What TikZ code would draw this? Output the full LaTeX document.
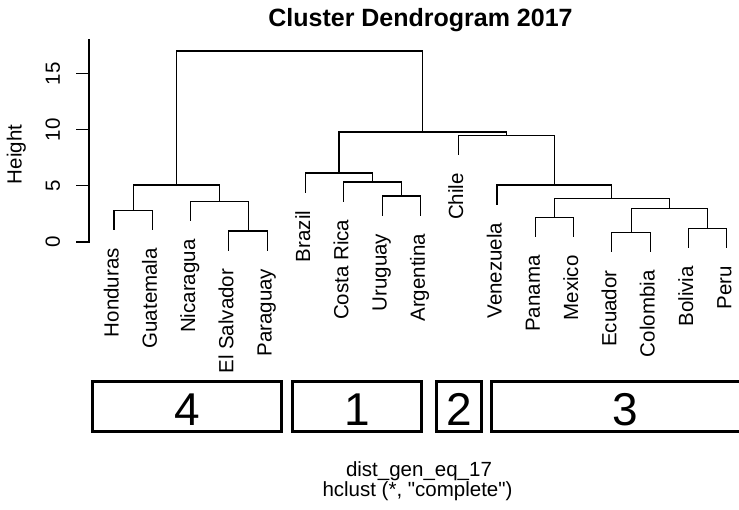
\documentclass[tikz,border=0pt]{standalone}
\usepackage{fontspec}
\setmainfont{Liberation Sans}
\newfontfamily\rawsans{Liberation Sans}[Ligatures=TeXOff]
\usepackage{tikz}
\usetikzlibrary{calc}

\begin{document}
\begin{tikzpicture}[x=1pt,y=1pt,
  branch/.style={line width=1.1pt,line cap=rect},
  leaflbl/.style={rotate=90,anchor=base east,inner sep=0pt,font=\fontsize{20.5}{24}\selectfont},
  ticklbl/.style={rotate=90,anchor=base,inner sep=0pt,font=\fontsize{20.5}{24}\selectfont},
  clbox/.style={draw,line width=3pt,minimum height=50.3pt,text height=38pt,text depth=0pt,inner sep=0pt,font=\fontsize{46}{50}\selectfont}]
\useasboundingbox (0,0) rectangle (739,510);
\node[font=\bfseries\fontsize{25}{30}\selectfont,anchor=base,inner sep=0pt] (ttl) at (420.5,483.5) {Cluster Dendrogram 2017};
\node[ticklbl] (ylab) at (21.5,355.5) {Height};
\begin{scope}[shift={(114pt,268pt)},x=38.3pt,y=11.22pt]
\def\axx{-0.653}
\draw[branch] (\axx,0) -- (\axx,18.07);
\foreach \t in {0,5,10,15} {
  \draw[branch] (\axx,\t) -- ++(-12.3pt,0) coordinate (k\t);
  \node[ticklbl] (t\t) at ([xshift=-16.7pt]k\t) {\t};
}
\foreach \i/\nm/\lbl/\m in {0/hon/Honduras/2.82, 1/gua/Guatemala/2.82, 2/nic/Nicaragua/3.59,
  3/sal/El Salvador/0.98, 4/par/Paraguay/0.98, 5/bra/Brazil/6.15, 6/cos/Costa Rica/5.35,
  7/uru/Uruguay/4.1, 8/arg/Argentina/4.1, 9/chi/Chile/9.5, 10/ven/Venezuela/5.08,
  11/pan/Panama/2.17, 12/mex/Mexico/2.17, 13/ecu/Ecuador/0.83, 14/col/Colombia/0.83,
  15/bol/Bolivia/1.22, 16/per/Peru/1.22} {
  \coordinate (\nm) at (\i,{\m-1.7});
  \node[leaflbl] (\nm-l) at ([xshift=4.5pt,yshift=-18.5pt]\nm) {\lbl};
}
% merge points
\coordinate (hongua) at (0.5,2.82);
\coordinate (salpar) at (3.5,0.98);
\coordinate (nicsp) at (2.75,3.59);
\coordinate (grp4) at (1.625,5.08);
\coordinate (uruarg) at (7.5,4.1);
\coordinate (cosua) at (6.75,5.35);
\coordinate (grp1) at (5.875,6.15);
\coordinate (panmex) at (11.5,2.17);
\coordinate (ecucol) at (13.5,0.83);
\coordinate (bolper) at (15.5,1.22);
\coordinate (ecbp) at (14.5,3.0);
\coordinate (pmeb) at (13,3.89);
\coordinate (grp3) at (11.5,5.08);
\coordinate (chgrp) at (10.25,9.5);
\coordinate (cl123) at (8.0625,9.8);
\coordinate (root) at (4.84,17.02);
\draw[branch] (hon) |- (hongua) -| (gua);
\draw[branch] (sal) |- (salpar) -| (par);
\draw[branch] (nic) |- (nicsp) -| (salpar);
\draw[branch] (hongua) |- (grp4) -| (nicsp);
\draw[branch] (uru) |- (uruarg) -| (arg);
\draw[branch] (cos) |- (cosua) -| (uruarg);
\draw[branch] (bra) |- (grp1) -| (cosua);
\draw[branch] (pan) |- (panmex) -| (mex);
\draw[branch] (ecu) |- (ecucol) -| (col);
\draw[branch] (bol) |- (bolper) -| (per);
\draw[branch] (ecucol) |- (ecbp) -| (bolper);
\draw[branch] (panmex) |- (pmeb) -| (ecbp);
\draw[branch] (ven) |- (grp3) -| (pmeb);
\draw[branch] (chi) |- (chgrp) -| (grp3);
\draw[branch] (grp1) |- (cl123) -| (chgrp);
\draw[branch] (grp4) |- (root) -| (cl123);
\end{scope}
% cluster boxes
\node[clbox,minimum width=189pt] (box4) at (187.2,103.15) {4};
\node[clbox,minimum width=129pt] (box1) at (357.2,103.15) {1};
\node[clbox,minimum width=45pt] (box2) at (459.2,103.15) {2};
\node[clbox,minimum width=268pt] (box3) at (625.7,103.15) {3};
\node[anchor=base,inner sep=0pt,font=\fontsize{20.5}{24}\selectfont] (xlab) at (419,33.3) {dist\_gen\_eq\_17};
\node[anchor=base,inner sep=0pt,font=\rawsans\fontsize{20.5}{24}\selectfont] (sub) at (417.5,13.3) {hclust (*, "complete")};
\end{tikzpicture}
\end{document}
